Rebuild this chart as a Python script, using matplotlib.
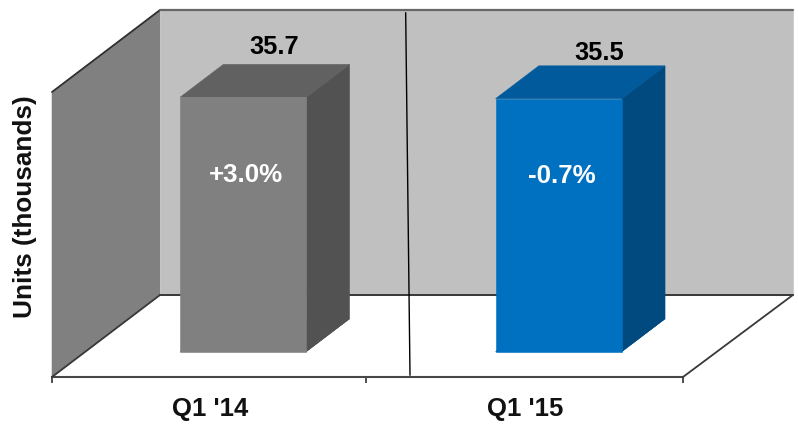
import matplotlib
matplotlib.use("Agg")
import matplotlib.pyplot as plt
from matplotlib.patches import Polygon

categories = ["Q1 '14", "Q1 '15"]
units = [35.7, 35.5]
changes = ["+3.0%", "-0.7%"]
front_colors = ["#808080", "#0070c0"]
top_colors = ["#616161", "#005a9c"]
side_colors = ["#525252", "#004a80"]

# Label placement relative to each bar's top-front centre, in pixels
value_offsets = [(31, 44), (41, 40)]
change_offsets = [(3, -84), (3, -83)]

plt.rcParams["font.family"] = ["Liberation Sans", "DejaVu Sans"]

W, H = 798, 427
fig = plt.figure(figsize=(W / 100, H / 100), dpi=100, facecolor="white")
ax = fig.add_axes([52 / W, 1 - 378 / H, (683 - 52) / W, (378 - 93) / H])
ax.set_xlim(0, 2)
ax.set_ylim(0, 40)
ax.patch.set_alpha(0)

# Oblique projection: full depth of the chart box, in data units
DEPTH_X = 108 / 315.5
DEPTH_Y = 82 / 7.125
BACK_RIGHT = 2.006


def proj(x, y, d):
    return (x + d * DEPTH_X, y + d * DEPTH_Y)


def face(points, color, z):
    ax.add_patch(Polygon([proj(*p) for p in points], closed=True, facecolor=color,
                         edgecolor=color, linewidth=0.4, clip_on=False, zorder=z))


def edge(p, q, color, lw, z=3):
    a, b = proj(*p), proj(*q)
    ax.plot([a[0], b[0]], [a[1], b[1]], color=color, lw=lw, clip_on=False,
            solid_capstyle="round", zorder=z)


# Chart box: side wall, back wall and their outlines
face([(0, 0, 0), (0, 40, 0), (0, 40, 1), (0, 0, 1)], "#808080", 1)
face([(0, 0, 1), (BACK_RIGHT, 0, 1), (BACK_RIGHT, 40, 1), (0, 40, 1)], "#c0c0c0", 1)
edge((0, 40, 0), (0, 40, 1), "#303030", 1.3)
edge((0, 40, 1), (BACK_RIGHT, 40, 1), "#666666", 1.6)
edge((0, 0, 1), (BACK_RIGHT, 0, 1), "#383838", 1.4)
edge((0, 0, 0), (0, 0, 1), "#383838", 1.3)
edge((2, 0, 0), (BACK_RIGHT, 0, 1), "#383838", 1.3)

# Thin divider between the two quarters
ax.plot([1.121, 1.1347], [51.1, 0.28], color="black", lw=1.0, clip_on=False, zorder=3)

# Bars
BAR_W = 0.4
D0, D1 = 0.31, 0.71
for i, v in enumerate(units):
    x0 = i + 0.5 - BAR_W / 2
    x1 = x0 + BAR_W
    face([(x0, 0, D0), (x1, 0, D0), (x1, 0, D1), (x0, 0, D1)], side_colors[i], 4)
    face([(x1, 0, D0), (x1, 0, D1), (x1, v, D1), (x1, v, D0)], side_colors[i], 5)
    face([(x0, v, D0), (x1, v, D0), (x1, v, D1), (x0, v, D1)], top_colors[i], 5)
    face([(x0, 0, D0), (x1, 0, D0), (x1, v, D0), (x0, v, D0)], front_colors[i], 6)

    tx, ty = proj(x0 + BAR_W / 2, v, D0)
    ax.annotate(f"{v:.1f}", (tx, ty), xytext=value_offsets[i], textcoords="offset pixels",
                ha="center", va="baseline", fontsize=18.3, fontweight="bold",
                color="black", zorder=7, annotation_clip=False)
    ax.annotate(changes[i], (tx, ty), xytext=change_offsets[i], textcoords="offset pixels",
                ha="center", va="baseline", fontsize=18.6, fontweight="bold",
                color="white", zorder=7, annotation_clip=False)

# Axis furniture
for name in ("top", "left", "right"):
    ax.spines[name].set_visible(False)
ax.spines["bottom"].set_color("#484848")
ax.spines["bottom"].set_linewidth(1.5)
ax.set_yticks([])
ax.set_xticks([0, 0.995, 2])
ax.set_xticklabels([])
ax.tick_params(axis="x", which="major", length=4, width=1.2, color="#303030")
ax.set_xticks([0.5, 1.5], minor=True)
ax.set_xticklabels(categories, minor=True, fontsize=18.5, fontweight="bold", color="#111111")
ax.tick_params(axis="x", which="minor", length=0, pad=14)

fig.text(25 / W, 1 - 207 / H, "Units (thousands)", rotation=90, ha="center", va="center",
         fontsize=18.8, fontweight="bold", color="#111111")

fig.savefig("out.png", dpi=100, facecolor="white")
